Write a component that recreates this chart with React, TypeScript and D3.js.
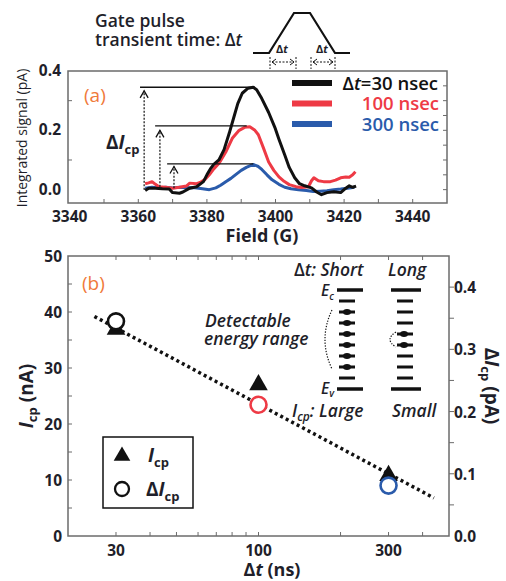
import * as d3 from "d3";

const FONT = "'Open Sans', 'Noto Sans', Arial, sans-serif";
const AXIS = "#6b6b6b";
const INK = "#1f1f2a";
const ORANGE = "#f07a3a";
const RED = "#ee3a45";
const BLUE = "#2a5bab";
const BLACK = "#111111";

// (a) integrated signal vs field
const fieldBlack = [3362, 3363, 3365, 3367, 3369, 3370, 3372, 3373, 3375, 3377, 3379, 3380, 3381, 3382, 3383.5, 3385, 3386.5, 3388, 3389, 3390.3, 3392, 3393.5, 3394.5, 3396, 3398, 3399.8, 3401, 3402.7, 3404, 3405.6, 3407, 3408.5, 3410.5, 3412, 3413.4, 3415, 3417, 3419, 3420.5, 3421.5, 3422.5, 3423.5];
const signalBlack = [-0.003, 0.005, 0.005, 0.003, 0.002, -0.01, -0.012, -0.008, 0.005, 0.01, 0.027, 0.05, 0.07, 0.085, 0.1, 0.135, 0.19, 0.25, 0.29, 0.325, 0.342, 0.345, 0.337, 0.307, 0.26, 0.21, 0.17, 0.117, 0.075, 0.04, 0.02, 0.013, 0.006, -0.008, -0.017, -0.01, -0.007, -0.01, 0.005, 0.013, 0.008, 0.012];
const fieldRed = [3362, 3363, 3364, 3365, 3366, 3368, 3370, 3372, 3374, 3375, 3377, 3378, 3379.5, 3380.7, 3382, 3383.6, 3385.5, 3387.4, 3389.4, 3391, 3392.5, 3394, 3395, 3396.5, 3398, 3399.5, 3401, 3402.5, 3404, 3406, 3407.6, 3409.6, 3410.5, 3411.2, 3412.5, 3414, 3416, 3417.5, 3419, 3420.5, 3421.5, 3422.5, 3423.3];
const signalRed = [0.02, 0.023, 0.027, 0.018, 0.01, 0.008, 0.005, 0.008, 0.012, 0.022, 0.02, 0.024, 0.035, 0.05, 0.07, 0.09, 0.127, 0.173, 0.2, 0.21, 0.212, 0.2, 0.185, 0.14, 0.093, 0.065, 0.043, 0.028, 0.017, 0.01, 0.007, 0.01, 0.03, 0.04, 0.03, 0.027, 0.027, 0.032, 0.04, 0.043, 0.042, 0.05, 0.06];
const fieldBlue = [3362, 3364, 3366, 3368, 3370, 3372, 3374, 3376, 3378.7, 3380.7, 3382.6, 3384, 3385.5, 3387, 3388.3, 3390, 3391.5, 3393.5, 3395, 3396, 3397.5, 3399, 3401, 3402.7, 3404.5, 3406.7, 3409, 3411, 3413, 3415, 3417, 3419, 3421, 3423];
const signalBlue = [0.005, 0.008, 0.006, 0.008, 0.006, 0.008, 0.006, 0.007, 0.003, 0.0, 0.006, 0.015, 0.027, 0.038, 0.05, 0.065, 0.075, 0.085, 0.078, 0.068, 0.05, 0.033, 0.018, 0.008, 0.003, 0.0, -0.003, -0.006, -0.005, -0.004, 0.0, 0.002, 0.005, 0.008];

// ΔIcp marks in (a)
const markLineStart = [3360.5, 3364.9, 3368.4];
const markLineEnd = [3394, 3391.6, 3393.5];
const markLevel = [0.345, 0.215, 0.087];
const markArrowX = [3361.7, 3366.3, 3370.4];
const markArrowTop = [0.333, 0.2, 0.078];
const markArrowBase = [0.0, 0.01, 0.005];

const fieldTicks = [3340, 3360, 3380, 3400, 3420, 3440];
const signalTicks = [0.0, 0.2, 0.4];

// (b) Icp and ΔIcp vs Δt
const dt = [30, 100, 300];
const icp = [36.9, 27, 10.8];
const dIcp = [0.345, 0.211, 0.081];
const dtColors = [BLACK, RED, BLUE];
const fitDt = [25, 440];
const fitIcp = [39.2, 6.8];
const dtTicks = [30, 100, 300];
const dtMinor = [40, 50, 60, 70, 80, 90, 200, 400];
const icpTicks = [0, 10, 20, 30, 40, 50];
const dIcpTicks = [0.0, 0.1, 0.2, 0.3, 0.4];

// energy level sketch
const levelsShort = [0, 1, 2, 3, 4, 5, 6, 7];
const filledShort = [1, 2, 3, 4, 5, 6];
const filledLong = [3, 4];

function Dt({ size }: { size?: number }) {
  return (
    <>
      <tspan fontSize={size}>Δ</tspan>
      <tspan fontStyle="italic" fontSize={size}>t</tspan>
    </>
  );
}

export default function App() {
  const W = 506;
  const H = 581;

  // panel (a)
  const xa = d3.scaleLinear().domain([3339.5, 3450]).range([68, 447]);
  const ya = d3.scaleLinear().domain([-0.045, 0.4]).range([203, 71]);
  const lineA = (fx: number[], sv: number[]) =>
    d3.line<number>().x((_, i) => xa(fx[i])).y((v) => ya(v)).curve(d3.curveLinear)(sv) || "";

  // panel (b)
  const xb = d3.scaleLog().domain([20, 500]).range([68, 449]);
  const yl = d3.scaleLinear().domain([0, 50]).range([536, 256]);
  const yr = d3.scaleLinear().domain([0, 0.45]).range([536, 256]);

  const tri = d3.symbol().type(d3.symbolTriangle).size(150)() || "";
  const triSmall = d3.symbol().type(d3.symbolTriangle).size(120)() || "";

  // sketch level positions
  const ly = d3.scaleLinear().domain([0, 7]).range([301, 378]);

  return (
    <svg width={W} height={H} style={{ position: "absolute", left: 0, top: 0 }} fontFamily={FONT}>
      <rect width={W} height={H} fill="#fff" />

      {/* header */}
      <g fill={INK} fontWeight={600} fontSize={17.5}>
        <text x={95} y={27}>Gate pulse</text>
        <text x={95} y={46}>transient time: <Dt /></text>
      </g>
      <path d="M253,53 L269,53 L294,13 L310,13 L335,53 L350,53" fill="none" stroke={BLACK} strokeWidth={2.2} />
      <g fill={INK} fontWeight={700} fontSize={11}>
        <text x={282} y={53} textAnchor="middle"><Dt /></text>
        <text x={322} y={53} textAnchor="middle"><Dt /></text>
      </g>
      <g stroke={BLACK} strokeWidth={1} fill="none">
        {[[270, 296], [311, 335]].map(([a, b], i) => (
          <g key={i}>
            <line x1={a} x2={a} y1={57} y2={69} strokeDasharray="2 1.5" />
            <line x1={b} x2={b} y1={57} y2={69} strokeDasharray="2 1.5" />
            <line x1={a + 2} x2={b - 2} y1={62} y2={62} strokeDasharray="2 1.5" />
            <path d={`M${a + 6},59 L${a + 2},62 L${a + 6},65`} />
            <path d={`M${b - 6},59 L${b - 2},62 L${b - 6},65`} />
          </g>
        ))}
      </g>

      {/* panel (a) */}
      <rect x={68} y={71} width={379} height={132} fill="none" stroke={AXIS} strokeWidth={1.5} />
      <g stroke={AXIS} strokeWidth={1}>
        {d3.range(3350, 3450, 10).map((f) => (
          <line key={f} x1={xa(f)} x2={xa(f)} y1={203} y2={199} />
        ))}
        {[0.1, 0.3].map((v) => (
          <line key={v} x1={68} x2={72} y1={ya(v)} y2={ya(v)} />
        ))}
        {d3.range(0, 0.4, 0.05).map((v) => (
          <line key={v} x1={447} x2={443} y1={ya(v)} y2={ya(v)} />
        ))}
      </g>
      <g fill={INK} fontWeight={700} fontSize={15.5}>
        {fieldTicks.map((f) => (
          <text key={f} x={xa(f)} y={222} textAnchor="middle">{f}</text>
        ))}
        {signalTicks.map((v) => (
          <text key={v} x={61} y={ya(v) + 5} textAnchor="end">{v.toFixed(1)}</text>
        ))}
      </g>
      <text x={262} y={242} textAnchor="middle" fill={INK} fontWeight={700} fontSize={18}>Field (G)</text>
      <text transform="translate(27,138) rotate(-90)" textAnchor="middle" fill={INK} fontWeight={500} fontSize={14}>Integrated signal (pA)</text>
      <text x={84} y={102} fill={ORANGE} fontSize={19}>(a)</text>

      <g fill="none" strokeWidth={3} strokeLinejoin="round">
        <path d={lineA(fieldBlue, signalBlue)} stroke={BLUE} />
        <path d={lineA(fieldRed, signalRed)} stroke={RED} />
        <path d={lineA(fieldBlack, signalBlack)} stroke={BLACK} />
      </g>

      <g stroke={BLACK} fill="none">
        {markLevel.map((lv, i) => (
          <g key={i}>
            <line x1={xa(markLineStart[i])} x2={xa(markLineEnd[i])} y1={ya(lv)} y2={ya(lv)} strokeWidth={1.4} />
            <line x1={xa(markArrowX[i])} x2={xa(markArrowX[i])} y1={ya(markArrowBase[i])} y2={ya(markArrowTop[i])} strokeWidth={1.2} strokeDasharray="2 1.5" />
            <path d={`M${xa(markArrowX[i]) - 4},${ya(markArrowTop[i]) + 7} L${xa(markArrowX[i])},${ya(markArrowTop[i])} L${xa(markArrowX[i]) + 4},${ya(markArrowTop[i]) + 7}`} strokeWidth={1.3} />
          </g>
        ))}
      </g>
      <text x={106} y={149} fill={INK} fontWeight={700} fontSize={19}>
        <tspan>Δ</tspan><tspan fontStyle="italic">I</tspan><tspan fontSize={13} dy={5}>cp</tspan>
      </text>

      {/* legend (a) */}
      {[0, 1, 2].map((i) => (
        <line key={i} x1={292} x2={332} y1={83 + i * 20.5} y2={83 + i * 20.5} stroke={[BLACK, RED, BLUE][i]} strokeWidth={6} />
      ))}
      <g fontWeight={600} fontSize={18.5} textAnchor="end">
        <text x={438} y={89.5} fill={BLACK}><Dt />=30 nsec</text>
        <text x={439} y={110} fill={RED}>100 nsec</text>
        <text x={439} y={130.5} fill={BLUE}>300 nsec</text>
      </g>

      {/* panel (b) */}
      <rect x={68} y={256} width={381} height={280} fill="none" stroke={AXIS} strokeWidth={1.5} />
      <g stroke={AXIS} strokeWidth={1}>
        {[...dtTicks, ...dtMinor].map((t) => (
          <g key={t}>
            <line x1={xb(t)} x2={xb(t)} y1={536} y2={532} />
            <line x1={xb(t)} x2={xb(t)} y1={256} y2={260} />
          </g>
        ))}
        {d3.range(5, 50, 5).map((v) => (
          <line key={v} x1={68} x2={72} y1={yl(v)} y2={yl(v)} />
        ))}
        {d3.range(0.05, 0.45, 0.05).map((v) => (
          <line key={v} x1={449} x2={454} y1={yr(v)} y2={yr(v)} />
        ))}
      </g>
      <g fill={INK} fontWeight={700} fontSize={15.5}>
        {dtTicks.map((t) => (
          <text key={t} x={xb(t)} y={556} textAnchor="middle">{t}</text>
        ))}
        {icpTicks.map((v) => (
          <text key={v} x={62} y={yl(v) + 6} textAnchor="end">{v}</text>
        ))}
        {dIcpTicks.map((v) => (
          <text key={v} x={454} y={yr(v) + 6}>{v.toFixed(1)}</text>
        ))}
      </g>
      <text x={272} y={576} textAnchor="middle" fill={INK} fontWeight={700} fontSize={18}><Dt /> (ns)</text>
      <text transform="translate(33,396) rotate(-90)" textAnchor="middle" fill={INK} fontWeight={700} fontSize={19}>
        <tspan fontStyle="italic">I</tspan><tspan fontSize={13} dy={4}>cp</tspan><tspan dy={-4}> (nA)</tspan>
      </text>
      <text transform="translate(485,386) rotate(90)" textAnchor="middle" fill={INK} fontWeight={700} fontSize={19}>
        <tspan>Δ</tspan><tspan fontStyle="italic">I</tspan><tspan fontSize={13} dy={4}>cp</tspan><tspan dy={-4}> (pA)</tspan>
      </text>
      <text x={82} y={290} fill={ORANGE} fontSize={19}>(b)</text>

      <line x1={xb(fitDt[0])} x2={xb(fitDt[1])} y1={yl(fitIcp[0])} y2={yl(fitIcp[1])} stroke={BLACK} strokeWidth={3.5} strokeDasharray="3 3.2" />
      {dt.map((t, i) => (
        <path key={t} d={tri} transform={`translate(${xb(t)},${yl(icp[i])})`} fill={BLACK} />
      ))}
      {dt.map((t, i) => (
        <circle key={t} cx={xb(t)} cy={yr(dIcp[i])} r={8} fill="#fff" stroke={dtColors[i]} strokeWidth={2.6} />
      ))}

      {/* energy sketch */}
      <g fill={INK} fontStyle="italic" fontWeight={600} fontSize={17.5}>
        <text x={294} y={276}><tspan fontStyle="normal">Δ</tspan>t: Short</text>
        <text x={388} y={276}>Long</text>
        <text x={205} y={327}>Detectable</text>
        <text x={204} y={345}>energy range</text>
        <text x={292} y={417}>I<tspan fontSize={12} dy={4}>cp</tspan><tspan dy={-4}>: Large</tspan></text>
        <text x={392} y={417}>Small</text>
      </g>
      <g fill={INK} fontStyle="italic" fontWeight={600} fontSize={15.5}>
        <text x={321} y={296}>E<tspan fontSize={10} dy={4}>c</tspan></text>
        <text x={321} y={394}>E<tspan fontSize={10} dy={3}>v</tspan></text>
      </g>
      <g stroke={BLACK}>
        <line x1={337} x2={363} y1={290} y2={290} strokeWidth={3.5} />
        <line x1={391} x2={421} y1={290} y2={290} strokeWidth={3.5} />
        <line x1={337} x2={363} y1={389} y2={389} strokeWidth={3.5} />
        <line x1={391} x2={421} y1={389} y2={389} strokeWidth={3.5} />
        {levelsShort.map((k) => (
          <g key={k}>
            <line x1={339} x2={355} y1={ly(k)} y2={ly(k)} strokeWidth={3} />
            <line x1={397} x2={413} y1={ly(k)} y2={ly(k)} strokeWidth={3} />
          </g>
        ))}
      </g>
      <g fill={BLACK}>
        {filledShort.map((k) => (
          <ellipse key={k} cx={347} cy={ly(k)} rx={4} ry={3} />
        ))}
        {filledLong.map((k) => (
          <ellipse key={k} cx={404} cy={ly(k)} rx={4} ry={3} />
        ))}
      </g>
      <g fill="none" stroke={BLACK} strokeWidth={1.2} strokeDasharray="1.3 1.5">
        <path d={`M332,${ly(1) - 2} Q318,${(ly(1) + ly(6)) / 2} 332,${ly(6) + 2}`} />
        <path d={`M396,${ly(3) - 2} Q384,${(ly(3) + ly(4)) / 2} 396,${ly(4) + 2}`} />
      </g>

      {/* legend (b) */}
      <rect x={103} y={437} width={90} height={71} fill="#fff" stroke={BLACK} strokeWidth={1.5} />
      <path d={triSmall} transform="translate(122,456)" fill={BLACK} />
      <circle cx={122} cy={489} r={7} fill="#fff" stroke={BLACK} strokeWidth={2.3} />
      <g fill={INK} fontWeight={700} fontSize={19}>
        <text x={148} y={462}><tspan fontStyle="italic">I</tspan><tspan fontSize={13} dy={5}>cp</tspan></text>
        <text x={146} y={496}>Δ<tspan fontStyle="italic">I</tspan><tspan fontSize={13} dy={5}>cp</tspan></text>
      </g>
    </svg>
  );
}
